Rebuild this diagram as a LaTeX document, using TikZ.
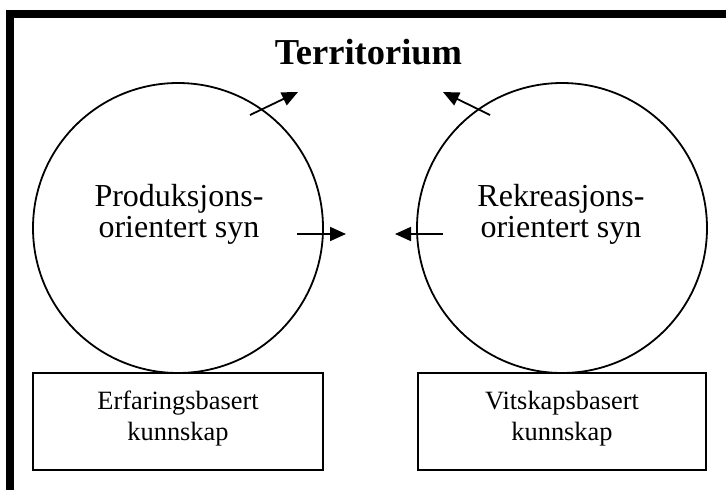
\documentclass[tikz,border=0pt]{standalone}
\usepackage{fontspec}
\setmainfont{Liberation Serif}
\usetikzlibrary{arrows.meta}
\tikzset{
  ring/.style={draw, circle, line width=1.8pt, minimum size=290pt, inner sep=0pt},
  kbox/.style={draw, rectangle, line width=2pt, minimum width=290pt, minimum height=97pt, inner sep=0pt},
  ctext/.style={align=center, inner sep=0pt, font=\fontsize{32}{31}\selectfont},
  btext/.style={align=center, inner sep=0pt, font=\fontsize{26.4}{31}\selectfont},
  arr/.style={line width=1.8pt, -{Triangle[length=16pt,width=14pt]}}
}
\begin{document}
\begin{tikzpicture}[x=1pt,y=-1pt]
\useasboundingbox (0,0) rectangle (726,490);
% frame
\fill[black] (6,10) rectangle (726,18);
\fill[black] (6,10) rectangle (14,490);
% title
\node[anchor=base, inner sep=0pt, font=\fontsize{36.5}{40}\selectfont\bfseries] (title) at (368.5,64) {Territorium};
% circles
\node[ring] (c1) at (178,228) {};
\node[ring] (c2) at (562,228) {};
\node[ctext] (t1) at (179,214) {Produksjons-\\orientert syn};
\node[ctext] (t2) at (561,214) {Rekreasjons-\\orientert syn};
% boxes
\node[kbox, minimum width=290pt] (b1) at (178,421.5) {};
\node[kbox, minimum width=288pt] (b2) at (562,421.5) {};
\node[btext] (bt1) at (178,418.5) {Erfaringsbasert\\kunnskap};
\node[btext] (bt2) at (562,418.5) {Vitskapsbasert\\kunnskap};
% arrows
\coordinate (a1s) at (250,115); \coordinate (a1e) at (298,92);
\coordinate (a2s) at (490,115); \coordinate (a2e) at (443,92);
\coordinate (a3s) at (297,234); \coordinate (a3e) at (346,234);
\coordinate (a4s) at (443,234); \coordinate (a4e) at (395,234);
\draw[arr] (a1s) -- (a1e);
\draw[arr] (a2s) -- (a2e);
\draw[arr] (a3s) -- (a3e);
\draw[arr] (a4s) -- (a4e);
\end{tikzpicture}
\end{document}
